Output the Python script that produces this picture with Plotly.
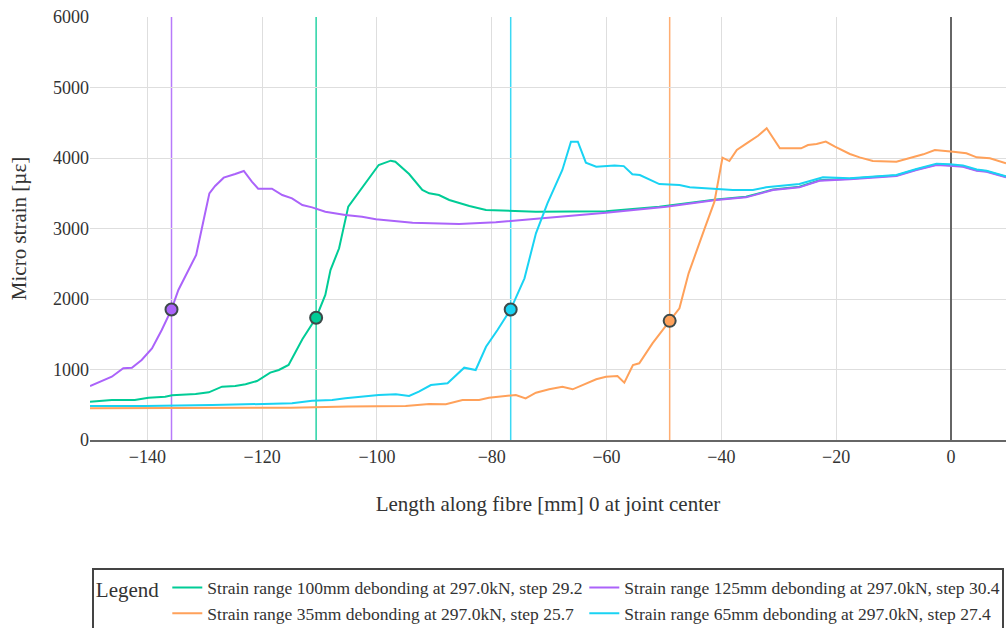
import plotly.graph_objects as go

# Strain profiles along the fibre (position in mm, micro strain)
names = [
    "Strain range 100mm debonding at 297.0kN, step 29.2",
    "Strain range 125mm debonding at 297.0kN, step 30.4",
    "Strain range 35mm debonding at 297.0kN, step 25.7",
    "Strain range 65mm debonding at 297.0kN, step 27.4",
]
colors = ["#00CC96", "#AB63FA", "#FFA15A", "#19D3F3"]

x_100 = [-150, -146.2, -142.2, -139.8, -136.9, -135.7, -131.6, -129.3, -127.0, -124.7,
         -122.9, -120.9, -118.6, -117.1, -115.4, -113.0, -110.6, -109.0, -108.1, -106.6,
         -105.0, -102.9, -101.4, -99.7, -97.6, -96.8, -94.4, -92.1, -90.9, -89.2,
         -87.4, -83.9, -81.0, -76.4, -72.3, -60.1, -50.8, -40.9, -35.7, -31.0,
         -26.4, -22.9, -17.6, -13.6, -9.5, -6.0, -2.5, -0.2, 2.1, 4.5, 6.2, 9.6]
y_100 = [543, 567, 567, 600, 614, 634, 652, 676, 756, 766,
         790, 837, 955, 993, 1064, 1428, 1735, 2057, 2411, 2719,
         3310, 3540, 3721, 3901, 3962, 3947, 3773, 3546, 3499, 3475,
         3404, 3319, 3262, 3252, 3238, 3245, 3310, 3412, 3450, 3552,
         3592, 3684, 3705, 3732, 3752, 3836, 3908, 3898, 3884, 3826, 3812, 3732]

x_125 = [-150, -146.2, -144.2, -142.7, -141.0, -139.2, -137.5, -135.8, -134.6, -133.1,
         -131.5, -130.2, -129.2, -128.2, -126.7, -124.7, -123.2, -121.8, -120.7, -118.3,
         -116.5, -114.8, -113.0, -111.3, -109.0, -105.5, -102.6, -100.2, -93.8, -85.7,
         -79.3, -71.2, -60.1, -49.6, -40.9, -35.7, -31.0, -26.4, -22.9, -17.6,
         -13.6, -9.5, -6.0, -2.5, -0.2, 2.1, 4.5, 6.2, 9.6]
y_125 = [766, 898, 1017, 1026, 1135, 1300, 1560, 1853, 2128, 2364,
         2624, 3120, 3499, 3603, 3721, 3773, 3816, 3664, 3565, 3565,
         3475, 3428, 3333, 3300, 3238, 3191, 3167, 3130, 3082, 3064,
         3088, 3145, 3224, 3310, 3404, 3442, 3546, 3584, 3678, 3698,
         3726, 3745, 3830, 3901, 3891, 3877, 3820, 3806, 3726]

x_35 = [-150, -130, -115, -105, -100, -95, -90.9, -88.0, -85.1, -82.2,
        -80.5, -78.1, -75.8, -74.1, -72.3, -70.0, -67.7, -65.9, -64.2, -61.8,
        -60.1, -58.1, -56.9, -55.4, -54.3, -52.0, -49.0, -47.3, -45.7, -44.4,
        -42.9, -41.2, -39.8, -38.6, -37.3, -35.4, -33.6, -32.1, -29.8, -26.1,
        -24.9, -23.4, -21.8, -20.2, -17.6, -15.9, -13.6, -9.5, -7.2, -4.8,
        -2.8, -0.8, 0.4, 2.7, 4.5, 6.8, 9.6]
y_35 = [450, 452, 458, 475, 480, 482, 511, 506, 567, 567,
        600, 614, 638, 591, 671, 719, 756, 719, 780, 861,
        898, 908, 813, 1064, 1088, 1371, 1690, 1868, 2364, 2671,
        3003, 3380, 4004, 3957, 4113, 4217, 4316, 4421, 4137, 4137,
        4184, 4199, 4232, 4161, 4057, 4009, 3957, 3947, 3995, 4052,
        4113, 4104, 4090, 4066, 4009, 3995, 3924]

x_65 = [-150, -140.4, -128.7, -120.0, -114.8, -111.3, -107.8, -105.5, -99.7, -96.7,
        -94.4, -92.7, -90.6, -87.7, -86.3, -84.8, -82.8, -81.0, -79.0, -76.7,
        -74.3, -72.3, -70.3, -67.7, -66.2, -65.0, -63.6, -61.8, -58.6, -57.0,
        -55.5, -54.2, -50.8, -47.3, -45.5, -42.6, -38.0, -34.5, -32.2, -26.4,
        -22.3, -17.6, -9.5, -6.0, -2.5, -0.2, 2.1, 4.5, 6.2, 9.6]
y_65 = [482, 482, 496, 511, 520, 558, 567, 591, 638, 648,
        624, 685, 780, 804, 908, 1026, 993, 1323, 1560, 1853,
        2293, 2931, 3357, 3830, 4232, 4232, 3934, 3877, 3895, 3885,
        3770, 3759, 3630, 3617, 3584, 3570, 3546, 3546, 3584, 3631,
        3726, 3712, 3759, 3845, 3920, 3910, 3895, 3838, 3820, 3740]

# Debonding front position and strain for each case
front_x = [-110.6, -135.8, -49.0, -76.7]
front_y = [1735, 1850, 1690, 1850]

xs = [x_100, x_125, x_35, x_65]
ys = [y_100, y_125, y_35, y_65]

serif = "Liberation Serif"

fig = go.Figure()
for name, xv, yv, c in zip(names, xs, ys, colors):
    fig.add_trace(go.Scatter(x=xv, y=yv, mode="lines", name=name,
                             line=dict(color=c, width=2)))

for fx, fy, c in zip(front_x, front_y, colors):
    fig.add_shape(type="line", x0=fx, x1=fx, y0=0, y1=1, yref="paper",
                  line=dict(color=c, width=1.5), opacity=0.85, layer="below")
    fig.add_trace(go.Scatter(x=[fx], y=[fy], mode="markers", showlegend=False,
                             marker=dict(size=12, color=c,
                                         line=dict(color="#3d4a4a", width=2))))

fig.update_layout(
    width=1006, height=628,
    margin=dict(l=90, r=0, t=17, b=188, autoexpand=False),
    paper_bgcolor="white", plot_bgcolor="white",
    font=dict(family=serif, size=18, color="#333"),
    xaxis=dict(range=[-150, 9.6], dtick=20, showgrid=True, gridcolor="#dedede",
               zeroline=True, zerolinecolor="#666", zerolinewidth=1.5,
               showline=True, linecolor="#666", linewidth=1.5, ticks="",
               tickfont=dict(family=serif, size=18, color="#333"),
               title=dict(text="Length along fibre [mm] 0 at joint center",
                          font=dict(family=serif, size=21, color="#333"), standoff=30)),
    yaxis=dict(range=[0, 6000], dtick=1000, showgrid=True, gridcolor="#dedede",
               zeroline=False, showline=False, ticks="",
               tickfont=dict(family=serif, size=18, color="#333"),
               title=dict(text="Micro strain [µε]",
                          font=dict(family=serif, size=21, color="#333"), standoff=20)),
    legend=dict(orientation="h", x=0.002, xanchor="left", y=-0.302, yanchor="top",
                bordercolor="#444", borderwidth=2,
                entrywidth=372, entrywidthmode="pixels",
                font=dict(family=serif, size=17.5, color="#333"),
                title=dict(text="Legend", font=dict(family=serif, size=21, color="#333"))),
    showlegend=True,
)

fig.write_html("out.html")
